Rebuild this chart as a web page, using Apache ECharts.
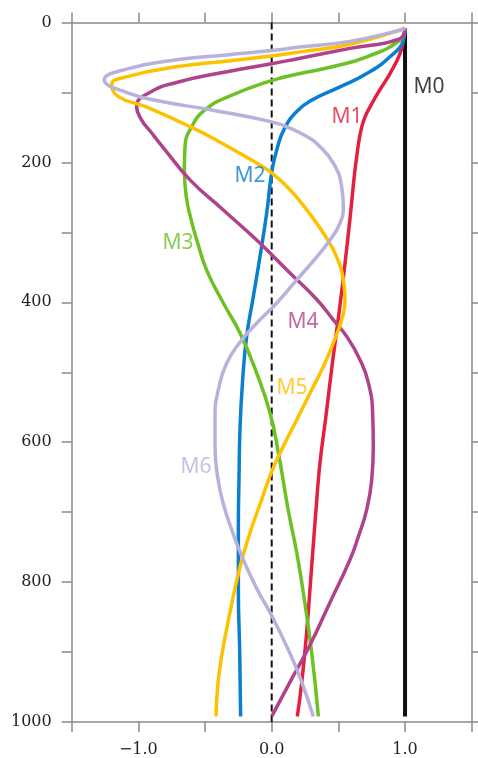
<!DOCTYPE html>
<html>
<head>
<meta charset="utf-8">
<script src="https://cdn.jsdelivr.net/npm/echarts@6/dist/echarts.min.js"></script>
<style>
html,body{margin:0;padding:0;background:#ffffff;}
#chart{width:478px;height:758px;}
</style>
</head>
<body>
<div id="chart"></div>
<script>
// Each mode: pairs of [amplitude, depth]
const M0 = [[1.0,8],[1.0,992]];
const M1 = [[1.0,8],[0.99,22],[0.963,44],[0.887,73],[0.812,96],[0.745,118],[0.70,135],[0.672,152],[0.652,172],[0.637,193],[0.622,215],[0.59,275],[0.55,344],[0.505,415],[0.455,487],[0.41,558],[0.362,630],[0.335,690],[0.30,777],[0.262,872],[0.225,944],[0.192,992]];
const M2 = [[1.0,8],[0.988,25],[0.887,49],[0.713,73],[0.512,92],[0.30,111],[0.20,125],[0.10,150],[0.038,182],[0.0,215],[-0.038,273],[-0.088,335],[-0.138,392],[-0.188,449],[-0.218,511],[-0.238,582],[-0.245,650],[-0.25,720],[-0.25,810],[-0.24,900],[-0.233,992]];
const M3 = [[1.0,8],[0.963,25],[0.713,49],[0.462,63],[0.212,73],[0.0,83],[-0.325,106],[-0.5,125],[-0.6,149],[-0.65,177],[-0.655,210],[-0.64,250],[-0.60,285],[-0.56,312],[-0.488,354],[-0.363,401],[-0.238,444],[-0.113,501],[-0.013,558],[0.05,615],[0.125,698],[0.188,758],[0.237,815],[0.30,901],[0.35,992]];
const M4 = [[1.0,8],[0.963,23],[0.587,37],[0.212,51],[0.0,59],[-0.325,70],[-0.7,85],[-0.925,101],[-1.013,120],[-0.98,138],[-0.9,158],[-0.80,182],[-0.613,225],[-0.363,268],[-0.113,311],[0.137,358],[0.338,396],[0.462,425],[0.563,449],[0.662,482],[0.725,515],[0.757,558],[0.762,606],[0.75,654],[0.713,696],[0.65,735],[0.587,768],[0.437,829],[0.287,890],[0.14,942],[0.0,992]];
const M5 = [[1.0,8],[0.587,31],[0.212,42],[0.0,48],[-0.325,55],[-0.7,63],[-1.075,77],[-1.2,89],[-1.15,106],[-0.95,120],[-0.60,150],[-0.37,173],[-0.113,201],[0.0,215],[0.137,239],[0.263,268],[0.387,301],[0.487,335],[0.537,368],[0.55,396],[0.525,425],[0.462,458],[0.387,492],[0.287,530],[0.188,568],[0.087,606],[0.0,642],[-0.075,682],[-0.15,722],[-0.215,762],[-0.265,800],[-0.32,850],[-0.37,900],[-0.403,945],[-0.418,992]];
const M6 = [[1.0,8],[0.963,11],[0.587,27],[0.212,35],[0.0,40],[-0.325,46],[-0.7,53],[-1.075,66],[-1.256,82],[-1.075,101],[-0.825,113],[-0.45,125],[0.0,142],[0.15,152],[0.263,163],[0.338,173],[0.462,201],[0.525,235],[0.537,263],[0.512,287],[0.437,311],[0.338,335],[0.188,368],[0.038,401],[-0.113,430],[-0.225,454],[-0.338,487],[-0.40,525],[-0.425,563],[-0.425,606],[-0.405,650],[-0.36,690],[-0.30,725],[-0.22,765],[-0.11,810],[0.0,848],[0.12,895],[0.22,940],[0.312,992]];
const zeroLine = [[0,0],[0,1000]];

const modeNames = ['M0','M1','M2','M3','M4','M5','M6'];
const modeData = [M0,M1,M2,M3,M4,M5,M6];
const modeColors = ['#111111','#e3203f','#0a7fcf','#6cc224','#b0428c','#fcc200','#b8b1db'];
const labelAnchors = [[1.18,92],[0.565,135],[-0.163,219],[-0.703,315],[0.235,428],[0.153,522],[-0.567,636]];

const xTicks = [-1.0, 0.0, 1.0];
const yTicks = [0,200,400,600,800,1000];

const axisColor = '#8a8a8a';
const serif = 'DejaVu Serif';

const series = [];
series.push({
  type:'line', data: zeroLine, symbol:'none', silent:true, z:1,
  lineStyle:{color:'#111', width:2, type:[7,4]}
});
modeData.forEach((d,i)=>{
  series.push({
    name: modeNames[i], type:'line', data:d, symbol:'none', smooth: i===0?false:0.5,
    z: 2+i, silent:true,
    lineStyle:{color:modeColors[i], width: i===0?4:3.5, cap:'butt', join:'round'}
  });
});
series.push({
  type:'scatter', symbolSize:0, z:20, silent:true,
  data: labelAnchors.map((p,i)=>({value:p, name:modeNames[i],
    label:{show:true, formatter:modeNames[i], color:modeColors[i], position:'inside',
      fontFamily:'Noto Sans', fontSize:21, align:'center', verticalAlign:'middle'}}))
});

const chart = echarts.init(document.getElementById('chart'), null, {renderer:'canvas'});
chart.setOption({
  animation:false,
  backgroundColor:'#ffffff',
  grid:{left:71.7, right:6.3, top:22.5, bottom:36, containLabel:false},
  xAxis:[{
    type:'value', min:-1.5, max:1.5, interval:0.5, position:'bottom',
    axisLine:{show:true, onZero:false, lineStyle:{color:axisColor, width:1.5}},
    axisTick:{show:true, inside:false, length:10, lineStyle:{color:axisColor, width:1.5}},
    splitLine:{show:false},
    axisLabel:{margin:20, color:'#222', fontFamily:serif, fontSize:16,
      formatter:v=>{ const m = xTicks.find(t=>Math.abs(t-v)<1e-6); return m===undefined?'':(m<0?'\u2212'+Math.abs(m).toFixed(1):m.toFixed(1)); }}
  },{
    type:'value', min:-1.5, max:1.5, interval:0.5, position:'top',
    axisLine:{show:true, onZero:false, lineStyle:{color:axisColor, width:1.5}},
    axisTick:{show:true, inside:false, length:10, lineStyle:{color:axisColor, width:1.5}},
    splitLine:{show:false}, axisLabel:{show:false}
  }],
  yAxis:[{
    type:'value', min:0, max:1000, interval:100, inverse:true, position:'left',
    axisLine:{show:true, onZero:false, lineStyle:{color:axisColor, width:1.5}},
    axisTick:{show:true, inside:false, length:10, lineStyle:{color:axisColor, width:1.5}},
    splitLine:{show:false},
    axisLabel:{margin:20, color:'#222', fontFamily:serif, fontSize:16,
      formatter:v=> yTicks.indexOf(v)>=0 ? String(v) : ''}
  },{
    type:'value', min:0, max:1000, interval:100, inverse:true, position:'right',
    axisLine:{show:true, onZero:false, lineStyle:{color:axisColor, width:1.5}},
    axisTick:{show:true, inside:false, length:10, lineStyle:{color:axisColor, width:1.5}},
    splitLine:{show:false}, axisLabel:{show:false}
  }],
  series: series
});
</script>
</body>
</html>
